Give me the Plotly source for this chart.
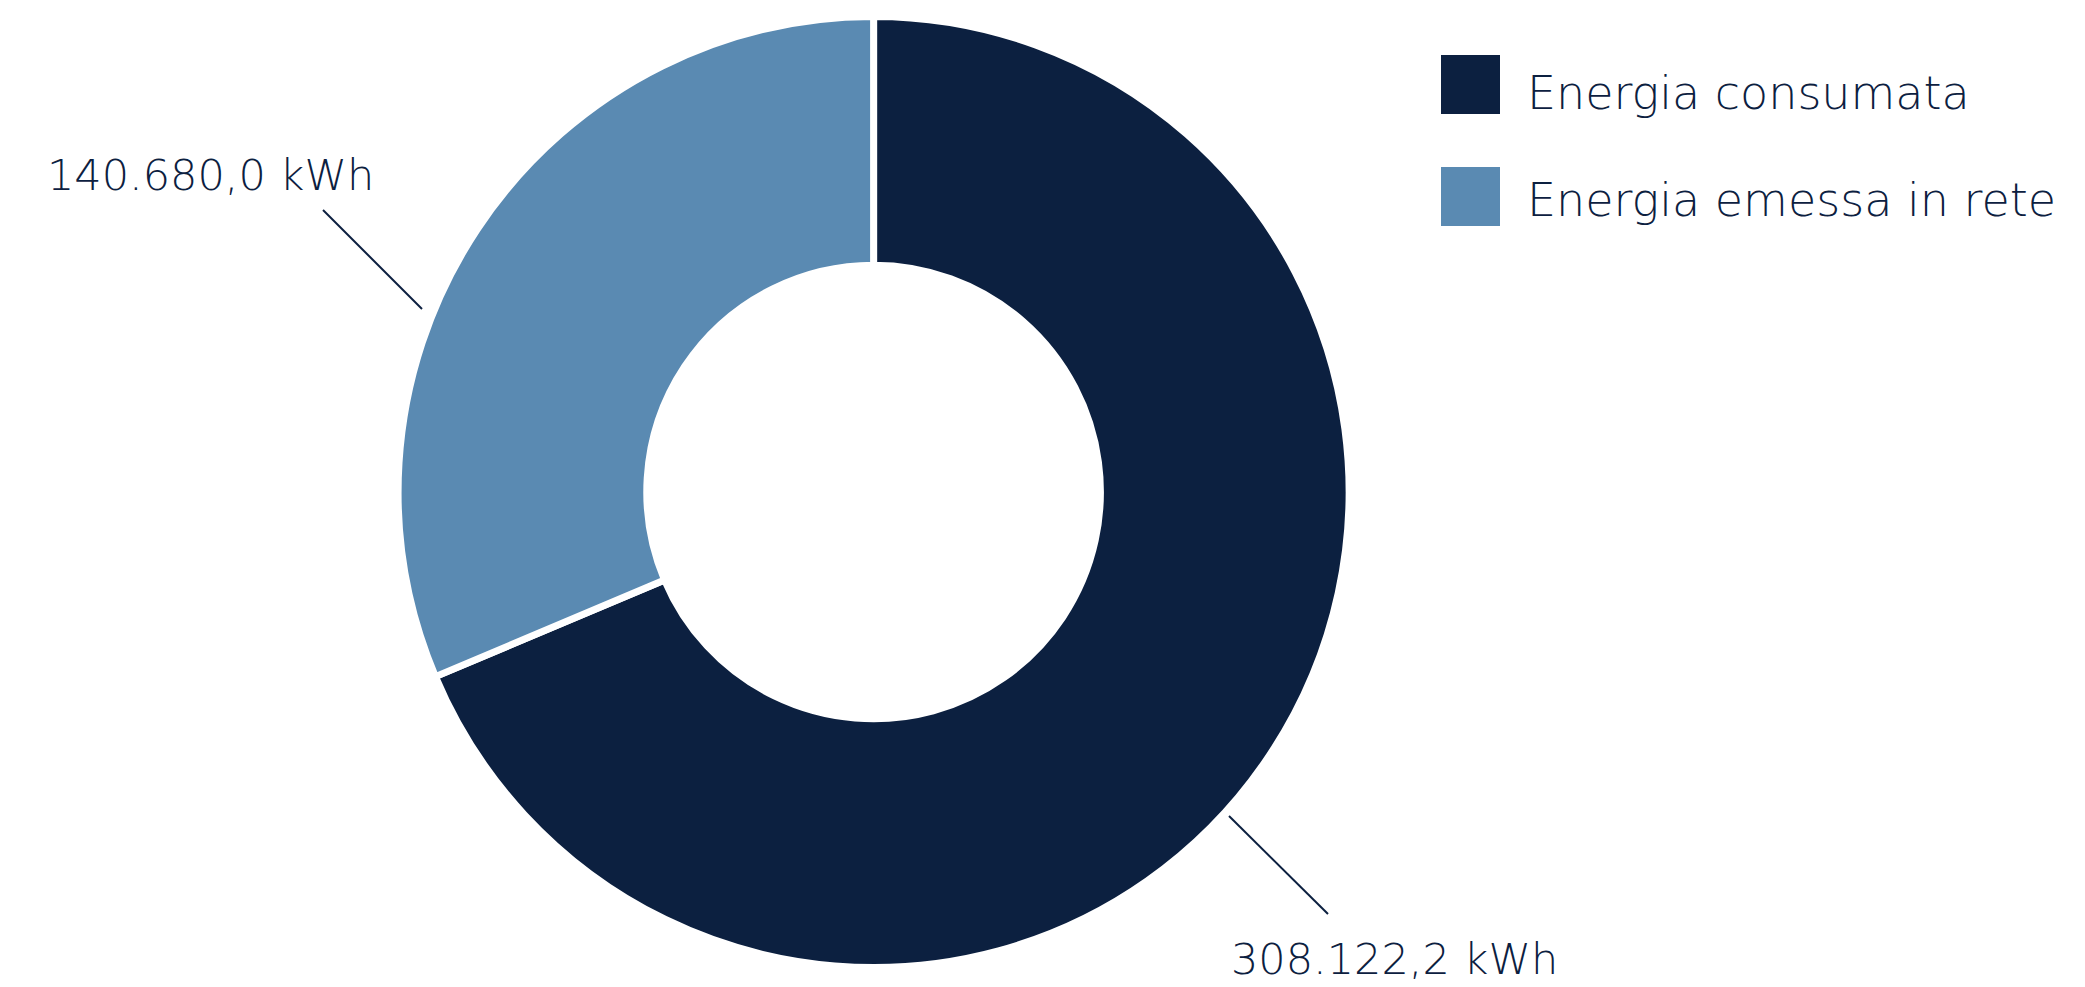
import plotly.graph_objects as go

# ---- data ----
labels = ["Energia consumata", "Energia emessa in rete"]
values = [308122.2, 140680.0]
value_labels = ["308.122,2 kWh", "140.680,0 kWh"]
colors = ["#0c2040", "#5a8ab2"]

TEXT_COLOR = "#0c2040"
FONT = "DejaVu Sans"
FSIZE = 46
VSIZE = 43

W, H = 2085, 987


def px(x):
    return x / W


def py(y):
    return 1 - y / H


cx, cy, R = 873.6, 492, 475.5

fig = go.Figure(
    go.Pie(
        labels=labels,
        values=values,
        hole=0.477,
        sort=False,
        direction="clockwise",
        rotation=0,
        marker=dict(colors=colors, line=dict(color="white", width=7)),
        textinfo="none",
        hoverinfo="label+value",
        showlegend=False,
        domain=dict(x=[px(cx - R), px(cx + R)], y=[py(cy + R), py(cy - R)]),
    )
)

shapes = []
annotations = []

# custom legend
leg_rows = [(55, 114, 93), (167, 226, 200)]
for (y0, y1, yt), lab, col in zip(leg_rows, labels, colors):
    shapes.append(dict(type="rect", xref="paper", yref="paper",
                       x0=px(1441), x1=px(1500), y0=py(y1), y1=py(y0),
                       fillcolor=col, line=dict(width=0)))
    annotations.append(dict(text=lab, xref="paper", yref="paper",
                            x=px(1525), y=py(yt), xanchor="left", yanchor="middle",
                            showarrow=False,
                            font=dict(family=FONT, size=FSIZE, color=TEXT_COLOR, weight=200)))

# value labels with leader lines
label_pos = [
    # (text x-left, text y-center, line from, line to)
    (1229, 959, (1229, 816), (1328, 914)),
    (45, 175, (323, 210), (422, 309)),
]
for txt, (tx, ty, p0, p1) in zip(value_labels, label_pos):
    shapes.append(dict(type="line", xref="paper", yref="paper",
                       x0=px(p0[0]), y0=py(p0[1]), x1=px(p1[0]), y1=py(p1[1]),
                       line=dict(color=TEXT_COLOR, width=2)))
    annotations.append(dict(text=txt, xref="paper", yref="paper",
                            x=px(tx), y=py(ty), xanchor="left", yanchor="middle",
                            showarrow=False,
                            font=dict(family=FONT, size=VSIZE, color=TEXT_COLOR, weight=200)))

fig.update_layout(
    width=W, height=H,
    margin=dict(l=0, r=0, t=0, b=0),
    paper_bgcolor="white",
    plot_bgcolor="white",
    shapes=shapes,
    annotations=annotations,
)

fig.write_html("out.html")
